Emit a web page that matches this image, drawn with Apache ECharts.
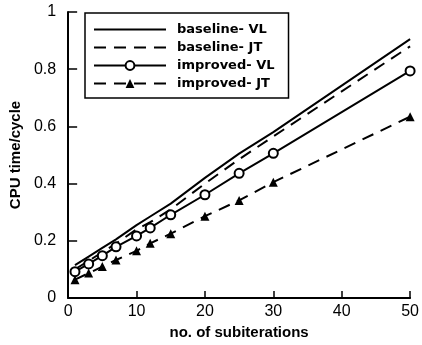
<!DOCTYPE html>
<html>
<head>
<meta charset="utf-8">
<script src="https://cdn.jsdelivr.net/npm/echarts@6/dist/echarts.min.js"></script>
<style>
  html, body { margin: 0; padding: 0; background: #fff; }
  #chart { width: 422px; height: 345px; }
</style>
</head>
<body>
<div id="chart"></div>
<script>
// subiteration counts (x values)
const subiters = [1, 3, 5, 7, 10, 12, 15, 20, 25, 30, 50];
// CPU time per cycle
const baselineVL = [0.115, 0.145, 0.175, 0.205, 0.255, 0.285, 0.33, 0.42, 0.505, 0.58, 0.905];
const baselineJT = [0.10, 0.13, 0.16, 0.19, 0.24, 0.265, 0.31, 0.40, 0.485, 0.565, 0.88];
const improvedVL = [0.092, 0.119, 0.148, 0.179, 0.217, 0.245, 0.291, 0.361, 0.436, 0.506, 0.794];
const improvedJT = [0.064, 0.087, 0.11, 0.133, 0.165, 0.191, 0.225, 0.286, 0.341, 0.405, 0.634];
const seriesNames = ['baseline- VL', 'baseline- JT', 'improved- VL', 'improved- JT'];

function pairs(ys) {
    return subiters.map((x, i) => [x, ys[i]]);
}

const font = 'Liberation Sans, Arial, sans-serif';

let chart = echarts.init(document.getElementById('chart'));
chart.setOption({
    animation: false,
    grid: {
        left: 68,
        right: 9,
        top: 12,
        bottom: 45
    },
    legend: {
        left: 85,
        top: 13,
        orient: 'vertical',
        padding: [10, 14, 8, 8],
        itemGap: 5,
        itemWidth: 72,
        itemHeight: 11,
        borderColor: '#000',
        borderWidth: 1.5,
        borderRadius: 0,
        backgroundColor: '#fff',
        textStyle: {
            fontFamily: 'DejaVu Sans',
            fontWeight: 'bold',
            fontSize: 13,
            color: '#000',
            padding: [0, 0, 0, 6]
        },
        data: [
            { name: seriesNames[0], itemStyle: { opacity: 0 } },
            { name: seriesNames[1], itemStyle: { opacity: 0 } },
            { name: seriesNames[2] },
            { name: seriesNames[3] }
        ]
    },
    xAxis: {
        type: 'value',
        min: 0,
        max: 50,
        interval: 10,
        name: 'no. of subiterations',
        nameLocation: 'middle',
        nameGap: 27,
        nameTextStyle: { fontFamily: font, fontWeight: 'bold', fontSize: 15, color: '#000' },
        axisLine: { show: true, lineStyle: { color: '#000', width: 2 } },
        axisTick: { show: true, inside: true, length: 7, lineStyle: { color: '#000', width: 1.5 } },
        axisLabel: { fontFamily: font, fontSize: 16, color: '#000', margin: 6 },
        splitLine: { show: false }
    },
    yAxis: {
        type: 'value',
        min: 0,
        max: 1,
        interval: 0.2,
        name: 'CPU time/cycle',
        nameLocation: 'middle',
        nameGap: 43,
        nameTextStyle: { fontFamily: font, fontWeight: 'bold', fontSize: 15, color: '#000' },
        axisLine: { show: true, lineStyle: { color: '#000', width: 2 } },
        axisTick: { show: true, inside: true, length: 9, lineStyle: { color: '#000', width: 1.5 } },
        axisLabel: { fontFamily: font, fontSize: 16, color: '#000', margin: 12 },
        splitLine: { show: false }
    },
    series: [{
        name: seriesNames[0],
        type: 'line',
        data: pairs(baselineVL),
        symbol: 'none',
        lineStyle: { color: '#000', width: 2, type: 'solid' },
        itemStyle: { color: '#000' }
    }, {
        name: seriesNames[1],
        type: 'line',
        data: pairs(baselineJT),
        symbol: 'none',
        lineStyle: { color: '#000', width: 2, type: [12, 8] },
        itemStyle: { color: '#000' }
    }, {
        name: seriesNames[2],
        type: 'line',
        data: pairs(improvedVL),
        symbol: 'circle',
        symbolSize: 9,
        lineStyle: { color: '#000', width: 2, type: 'solid' },
        itemStyle: { color: '#fff', borderColor: '#000', borderWidth: 2 }
    }, {
        name: seriesNames[3],
        type: 'line',
        data: pairs(improvedJT),
        symbol: 'triangle',
        symbolSize: 9,
        lineStyle: { color: '#000', width: 2, type: [12, 8] },
        itemStyle: { color: '#000' }
    }]
});
</script>
</body>
</html>
